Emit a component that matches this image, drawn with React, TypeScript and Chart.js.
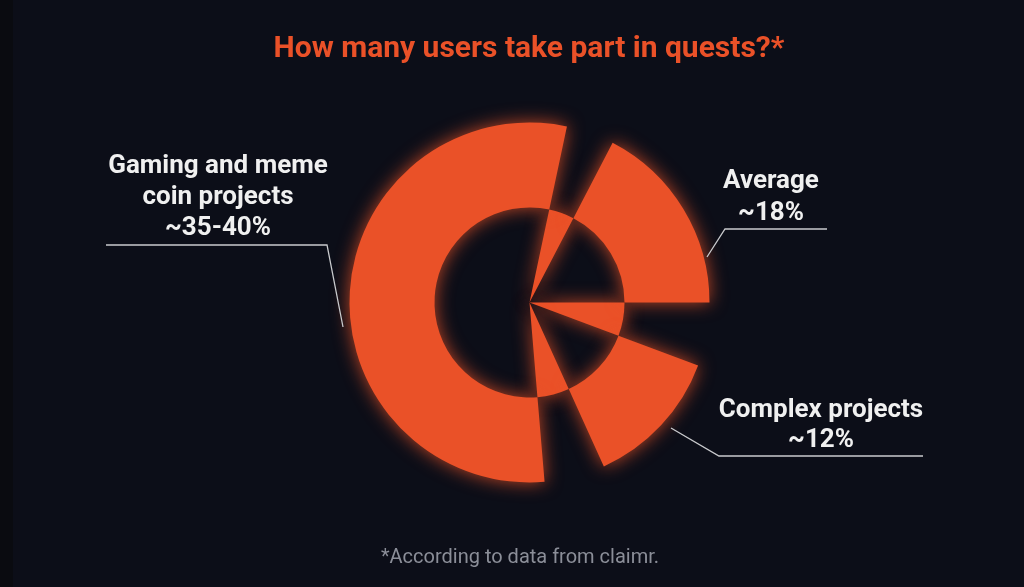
import React, { useEffect, useRef } from "react";
import { Chart, registerables } from "chart.js";

Chart.register(...registerables);

// ---- Data ----
const ORANGE = "#EA5128";
const CLEAR = "rgba(0,0,0,0)";

const segmentNames = [
  "Gaming and meme coin projects",
  "inner wedge 1",
  "Average",
  "inner wedge 2",
  "Complex projects",
  "inner wedge 3",
];
// angular span of each segment, degrees (clockwise, starting at startAngle)
const segmentSpans = [196.8, 15.5, 62.5, 20.5, 45.1, 19.6];
const startAngle = 175.2;
const outerRingColors = [ORANGE, CLEAR, ORANGE, CLEAR, ORANGE, CLEAR];
const innerRingColors = [CLEAR, ORANGE, CLEAR, ORANGE, CLEAR, ORANGE];
// ring thicknesses (outer ring 95..180, inner disc 0..95)
const outerRingWeight = 85;
const innerRingWeight = 95;

const titleText = "How many users take part in quests?*";
const footnoteText = "*According to data from claimr.";
const gamingLabel = ["Gaming and meme", "coin projects", "~35-40%"];
const averageLabel = ["Average", "~18%"];
const complexLabel = ["Complex projects", "~12%"];

// ---- Layout for annotations ----
const callouts = [
  { lines: gamingLabel, x: 218, y: [173, 204, 235], leader: [[106, 245], [327, 245], [343, 327]] },
  { lines: averageLabel, x: 771, y: [188, 220], leader: [[827, 229], [725, 229], [707, 257]] },
  { lines: complexLabel, x: 821, y: [417, 447], leader: [[923, 456], [719, 456], [671, 428]] },
];

const W = 1024;
const H = 587;

const backgroundPlugin = {
  id: "bg",
  beforeDraw(chart: any) {
    const ctx = chart.ctx as CanvasRenderingContext2D;
    ctx.save();
    ctx.fillStyle = "#0c0e18";
    ctx.fillRect(0, 0, chart.width, chart.height);
    ctx.fillStyle = "#0a0b10";
    ctx.fillRect(0, 0, 13, chart.height);
    ctx.restore();
  },
};

const glowPlugin = {
  id: "glow",
  beforeDatasetsDraw(chart: any) {
    const ctx = chart.ctx as CanvasRenderingContext2D;
    ctx.save();
    ctx.shadowColor = "rgba(240,85,40,0.8)";
    ctx.shadowBlur = 18;
    ctx.shadowOffsetX = 0;
    ctx.shadowOffsetY = 0;
  },
  afterDatasetsDraw(chart: any) {
    chart.ctx.restore();
  },
};

const textPlugin = {
  id: "texts",
  afterDraw(chart: any) {
    const ctx = chart.ctx as CanvasRenderingContext2D;
    ctx.save();
    ctx.textAlign = "center";
    ctx.textBaseline = "alphabetic";

    ctx.fillStyle = ORANGE;
    ctx.font = "bold 30px Roboto";
    ctx.fillText(titleText, 529, 57, 516);

    ctx.fillStyle = "#8b8e98";
    ctx.font = "20px Roboto";
    ctx.fillText(footnoteText, 520, 563);

    ctx.strokeStyle = "#c9cacd";
    ctx.lineWidth = 1.3;
    for (const c of callouts) {
      ctx.beginPath();
      c.leader.forEach(([px, py], i) => (i === 0 ? ctx.moveTo(px, py) : ctx.lineTo(px, py)));
      ctx.stroke();
      ctx.fillStyle = "#f0f0f0";
      ctx.font = "bold 26px Roboto";
      c.lines.forEach((t, i) => ctx.fillText(t, c.x, c.y[i]));
    }
    ctx.restore();
  },
};

export default function App() {
  const ref = useRef<HTMLCanvasElement | null>(null);

  useEffect(() => {
    document.body.style.margin = "0";
    if (!ref.current) return;
    const chart = new Chart(ref.current, {
      type: "doughnut",
      data: {
        labels: segmentNames,
        datasets: [
          {
            data: segmentSpans,
            backgroundColor: outerRingColors,
            borderWidth: 0,
            hoverBorderWidth: 0,
            hoverOffset: 0,
            weight: outerRingWeight,
            clip: false,
          } as any,
          {
            data: segmentSpans,
            backgroundColor: innerRingColors,
            borderWidth: 0,
            hoverBorderWidth: 0,
            hoverOffset: 0,
            weight: innerRingWeight,
            clip: false,
          } as any,
        ],
      },
      options: {
        responsive: false,
        animation: false,
        devicePixelRatio: 1,
        cutout: 0,
        rotation: startAngle,
        circumference: 360,
        layout: { padding: { left: 349.5, right: 314.5, top: 122.5, bottom: 104.5 } },
        plugins: {
          legend: { display: false },
          tooltip: { enabled: false },
          title: { display: false },
        },
        events: [],
      } as any,
      plugins: [backgroundPlugin, glowPlugin, textPlugin],
    });
    return () => chart.destroy();
  }, []);

  return (
    <div style={{ position: "absolute", left: 0, top: 0, width: W, height: H, background: "#0c0e18" }}>
      <canvas ref={ref} width={W} height={H} style={{ width: W, height: H, display: "block" }} />
    </div>
  );
}
